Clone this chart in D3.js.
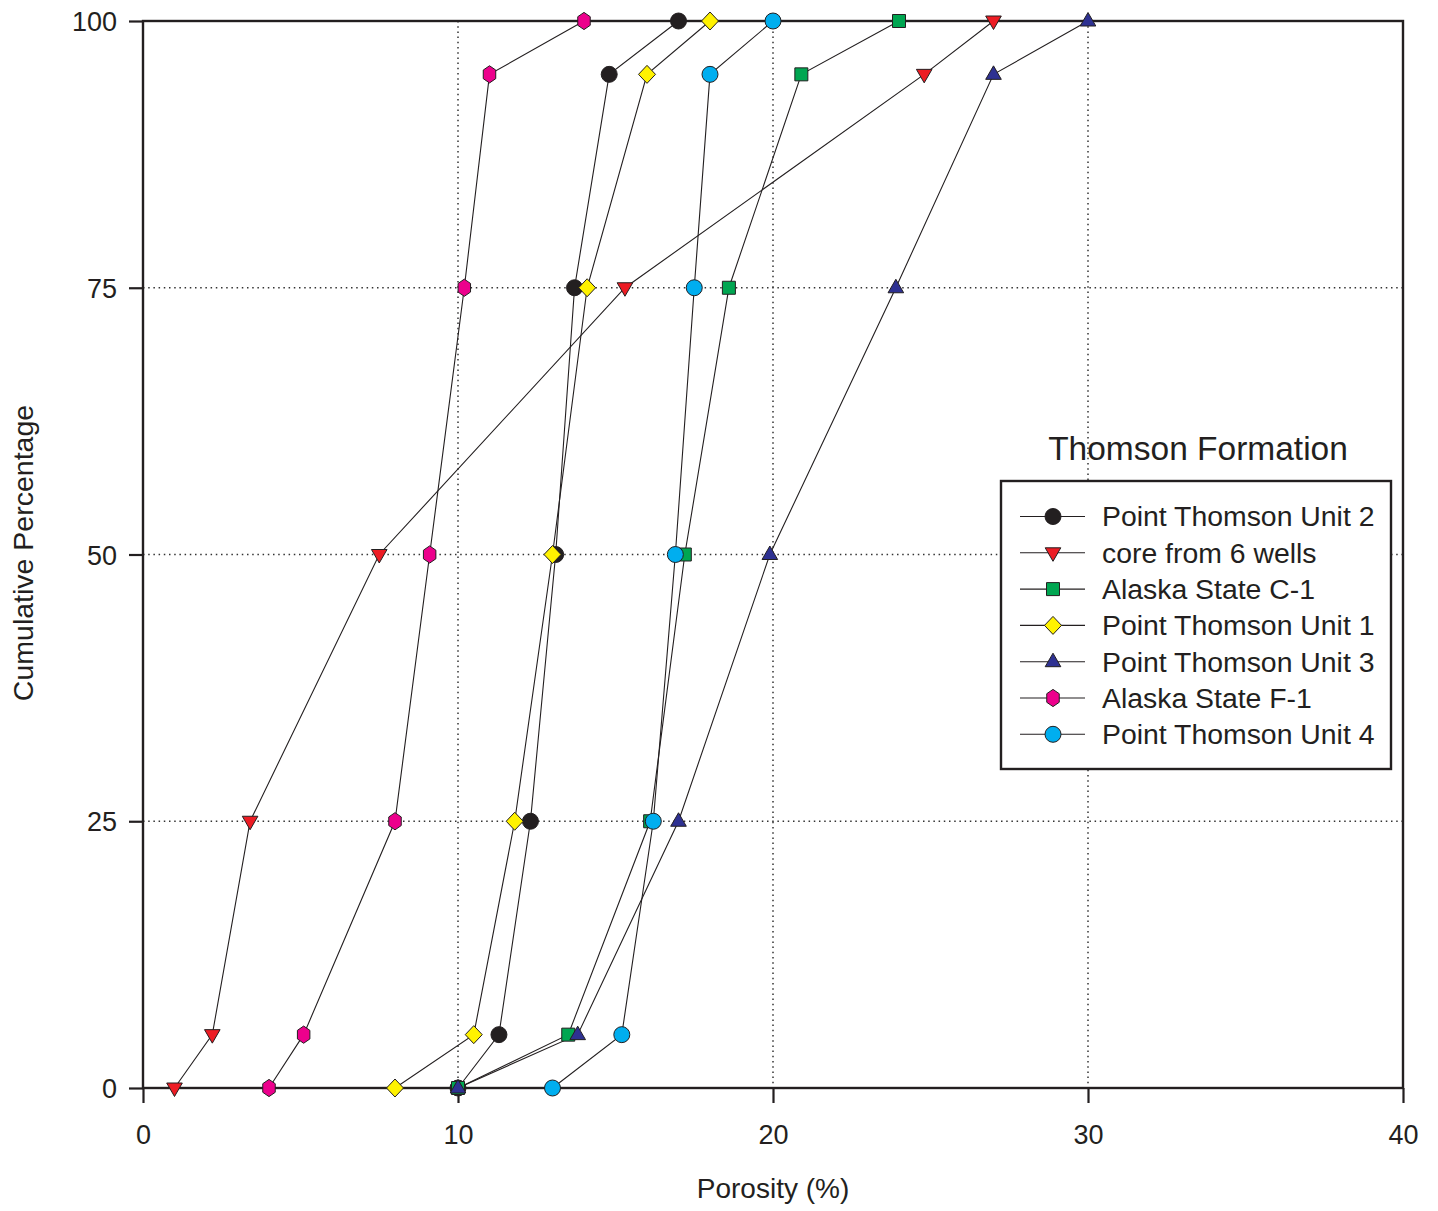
<!DOCTYPE html>
<html>
<head>
<meta charset="utf-8">
<script src="https://cdn.jsdelivr.net/npm/d3@7"></script>
<style>
  html, body { margin: 0; padding: 0; background: #fff; }
  svg { display: block; font-family: "Liberation Sans", Arial, Helvetica, sans-serif; }
</style>
</head>
<body>
<svg id="chart" width="1438" height="1211"></svg>
<script>
// Cumulative percentage levels shared by every well
const cumulative = [0, 5, 25, 50, 75, 95, 100];

// Porosity (%) at each cumulative level, one array per well
const ptu2 = [10.0, 11.3, 12.3, 13.1, 13.7, 14.8, 17.0];
const core6 = [1.0, 2.2, 3.4, 7.5, 15.3, 24.8, 27.0];
const asc1 = [10.0, 13.5, 16.1, 17.2, 18.6, 20.9, 24.0];
const ptu1 = [8.0, 10.5, 11.8, 13.0, 14.1, 16.0, 18.0];
const ptu3 = [10.0, 13.8, 17.0, 19.9, 23.9, 27.0, 30.0];
const asf1 = [4.0, 5.1, 8.0, 9.1, 10.2, 11.0, 14.0];
const ptu4 = [13.0, 15.2, 16.2, 16.9, 17.5, 18.0, 20.0];

const seriesNames = ["Point Thomson Unit 2", "core from 6 wells", "Alaska State C-1",
  "Point Thomson Unit 1", "Point Thomson Unit 3", "Alaska State F-1", "Point Thomson Unit 4"];
const seriesValues = [ptu2, core6, asc1, ptu1, ptu3, asf1, ptu4];
const seriesColors = ["#231f20", "#ed1c24", "#00a651", "#fff200", "#2e3192", "#ec008c", "#00aeef"];
const seriesShapes = ["circle", "triangleDown", "square", "diamond", "triangleUp", "hexagon", "circle"];

const xTicks = [0, 10, 20, 30, 40];
const yTicks = [0, 25, 50, 75, 100];

const ink = "#231f20";
const svg = d3.select("#chart");
const plotLeft = 143, plotRight = 1403, plotTop = 21, plotBottom = 1088;

const x = d3.scaleLinear().domain([0, 40]).range([plotLeft, plotRight]);
const y = d3.scaleLinear().domain([0, 100]).range([plotBottom, plotTop]);

// Marker outlines
function markerPath(shape) {
  switch (shape) {
    case "circle": return d3.symbol(d3.symbolCircle, Math.PI * 8 * 8)();
    case "square": return "M-6.5,-6.5H6.5V6.5H-6.5Z";
    case "diamond": return "M0,-9L8.5,0L0,9L-8.5,0Z";
    case "triangleUp": return "M0,-8.5L7.8,5L-7.8,5Z";
    case "triangleDown": return "M0,8.5L7.8,-5L-7.8,-5Z";
    case "hexagon": {
      const pts = d3.range(6).map(i => {
        const a = Math.PI / 2 + i * Math.PI / 3;
        return [7.2 * Math.cos(a), 8.6 * Math.sin(a)];
      });
      return "M" + pts.map(p => p.join(",")).join("L") + "Z";
    }
  }
}

// Dotted grid
const grid = svg.append("g").attr("stroke", "#333").attr("stroke-width", 1.5)
  .attr("stroke-dasharray", "1.5,3.7");
grid.selectAll("line.v").data(xTicks.filter(t => t > 0 && t < 40)).join("line")
  .attr("class", "v")
  .attr("x1", d => x(d)).attr("x2", d => x(d)).attr("y1", plotTop).attr("y2", plotBottom);
grid.selectAll("line.h").data(yTicks.filter(t => t > 0 && t < 100)).join("line")
  .attr("class", "h")
  .attr("x1", plotLeft).attr("x2", plotRight).attr("y1", d => y(d)).attr("y2", d => y(d));

// Axes
const xAxis = svg.append("g").attr("transform", `translate(0,${plotBottom})`)
  .call(d3.axisBottom(x).tickValues(xTicks).tickSize(15).tickPadding(22).tickSizeOuter(0));
const yAxis = svg.append("g").attr("transform", `translate(${plotLeft},0)`)
  .call(d3.axisLeft(y).tickValues(yTicks).tickSize(14).tickPadding(12).tickSizeOuter(0));
[xAxis, yAxis].forEach(a => {
  a.select(".domain").remove();
  a.selectAll(".tick line").attr("stroke", ink).attr("stroke-width", 2.2);
  a.selectAll(".tick text").attr("fill", ink).attr("font-size", 27)
    .attr("font-family", "Liberation Sans, Arial, Helvetica, sans-serif");
});
yAxis.selectAll(".tick text").attr("dy", "0.36em");

// Plot frame
svg.append("rect").attr("x", plotLeft).attr("y", plotTop)
  .attr("width", plotRight - plotLeft).attr("height", plotBottom - plotTop)
  .attr("fill", "none").attr("stroke", ink).attr("stroke-width", 2.4);

// Axis titles
svg.append("text").attr("x", 773).attr("y", 1198)
  .attr("text-anchor", "middle").attr("font-size", 28).attr("fill", ink)
  .text("Porosity (%)");
svg.append("text").attr("transform", `translate(33,553) rotate(-90)`)
  .attr("text-anchor", "middle").attr("font-size", 28.5).attr("fill", ink)
  .text("Cumulative Percentage");

// Connecting lines
const line = d3.line().x(d => x(d[0])).y(d => y(d[1]));
const lines = svg.append("g");
seriesValues.forEach(vals => {
  lines.append("path")
    .attr("d", line(vals.map((v, i) => [v, cumulative[i]])))
    .attr("fill", "none").attr("stroke", ink).attr("stroke-width", 1.1);
});

// Markers, drawn in legend order
const marks = svg.append("g");
seriesValues.forEach((vals, s) => {
  marks.append("g").selectAll("path")
    .data(vals.map((v, i) => [v, cumulative[i]]))
    .join("path")
    .attr("transform", d => `translate(${x(d[0])},${y(d[1])})`)
    .attr("d", markerPath(seriesShapes[s]))
    .attr("fill", seriesColors[s]).attr("stroke", ink).attr("stroke-width", 1);
});

// Legend
svg.append("text").attr("x", 1198).attr("y", 460).attr("text-anchor", "middle")
  .attr("font-size", 33.5).attr("fill", ink).text("Thomson Formation");
svg.append("rect").attr("x", 1001).attr("y", 481).attr("width", 390).attr("height", 288)
  .attr("fill", "#fff").attr("stroke", ink).attr("stroke-width", 2.4);
const legend = svg.append("g");
seriesNames.forEach((name, i) => {
  const cy = 516.5 + i * 36.3;
  const g = legend.append("g").attr("transform", `translate(0,${cy})`);
  g.append("line").attr("x1", 1020).attr("x2", 1085).attr("y1", 0).attr("y2", 0)
    .attr("stroke", ink).attr("stroke-width", 1.1);
  g.append("path").attr("transform", "translate(1053,0)")
    .attr("d", markerPath(seriesShapes[i]))
    .attr("fill", seriesColors[i]).attr("stroke", ink).attr("stroke-width", 1);
  g.append("text").attr("x", 1102).attr("y", 0).attr("dy", "0.35em")
    .attr("font-size", 28.4).attr("fill", ink).text(name);
});
</script>
</body>
</html>
